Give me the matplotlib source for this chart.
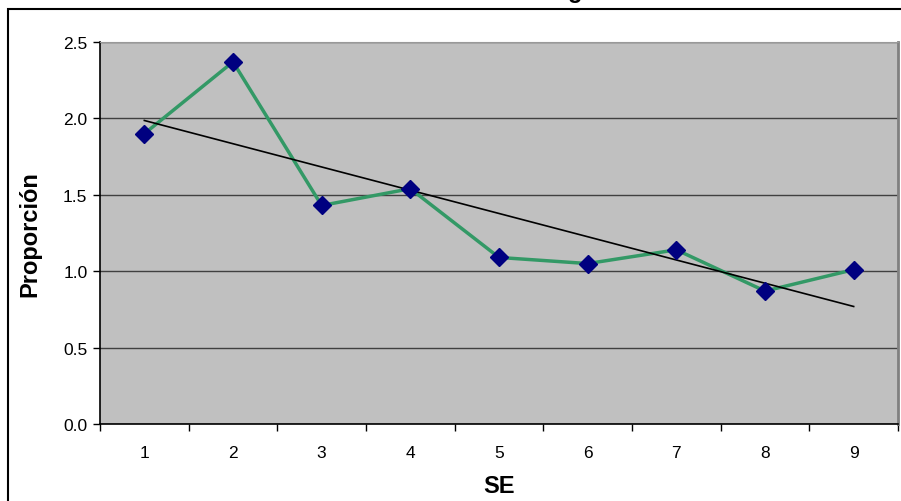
import numpy as np
import matplotlib.pyplot as plt
from matplotlib.patches import Rectangle

plt.rcParams['font.family'] = ['Liberation Sans', 'DejaVu Sans']

# data
se = [1, 2, 3, 4, 5, 6, 7, 8, 9]
proporcion = [1.90, 2.37, 1.43, 1.54, 1.09, 1.05, 1.14, 0.87, 1.01]
y_ticks = [0.0, 0.5, 1.0, 1.5, 2.0, 2.5]

W, H = 901, 502
fig = plt.figure(figsize=(W / 100, H / 100), dpi=100)

# outer chart frame (cut off on right and bottom)
fig.patches.append(Rectangle((8 / W, -0.1), 1.0, (H - 10) / H + 0.1,
                             transform=fig.transFigure, fill=False,
                             edgecolor='black', linewidth=1.5))

# fragment of the clipped title
fig.text(575 / W, 1 - 3 / H, 'g', ha='center', va='bottom',
         fontsize=17, fontweight='bold')

left, right, top, bottom = 100, 898, 43, 425
ax = fig.add_axes([left / W, 1 - bottom / H, (right - left) / W, (bottom - top) / H])
ax.set_facecolor('#c0c0c0')

x = np.array(se)
y = np.array(proporcion)
ax.plot(x, y, color='#339966', linewidth=2.5, zorder=3)
ax.plot(x, y, linestyle='none', marker='D', markersize=9,
        markerfacecolor='#000080', markeredgecolor='#000080', zorder=4)

# linear trend line
k, b = np.polyfit(x, y, 1)
ax.plot(x, k * x + b, color='black', linewidth=1.2, zorder=3)

ax.set_xlim(0.5, 9.5)
ax.set_ylim(0, 2.5)
ax.set_yticks(y_ticks)
ax.set_yticklabels([f'{v:.1f}' for v in y_ticks])
ax.yaxis.grid(True, color='#404040', linewidth=1)
ax.set_axisbelow(True)

# category ticks at the boundaries, labels centered
ax.set_xticks(np.arange(0.5, 10, 1))
ax.set_xticklabels([])
ax.set_xticks(x, minor=True)
ax.set_xticklabels([str(s) for s in se], minor=True)
ax.tick_params(axis='x', which='minor', length=0, pad=15, labelsize=12.5)
ax.tick_params(axis='x', which='major', length=5, width=1, direction='out')
ax.tick_params(axis='y', length=5, width=1, direction='out', labelsize=12.5, pad=4)

for s in ['left', 'bottom']:
    ax.spines[s].set_color('black')
    ax.spines[s].set_linewidth(1.2)
ax.spines['top'].set_color('#999999')
ax.spines['right'].set_color('#808080')
ax.spines['right'].set_linewidth(2)

ax.set_xlabel('SE', fontsize=17, fontweight='bold', labelpad=10)
ax.set_ylabel('Proporción', fontsize=17, fontweight='bold', labelpad=16)

fig.savefig('out.png', dpi=100)
